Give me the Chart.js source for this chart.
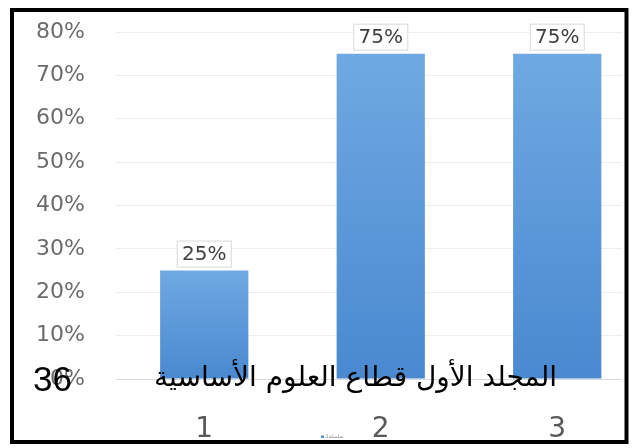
<!DOCTYPE html>
<html>
<head>
<meta charset="utf-8">
<script src="https://cdn.jsdelivr.net/npm/chart.js@4"></script>
<style>
  body { margin: 0; background: #fff; }
  #wrap { position: relative; width: 634px; height: 448px; overflow: hidden; }
  .foot { position: absolute; color: #000; white-space: nowrap; }
  #page { left: 33px; top: 361px; font-size: 35px; line-height: 35px; font-family: "Liberation Sans", Arial, sans-serif; }
  #title { right: 77px; top: 363px; font-size: 28px; line-height: 28px; font-family: "DejaVu Sans", sans-serif; direction: rtl; }
</style>
</head>
<body>
<div id="wrap">
  <canvas id="chart" width="634" height="448"></canvas>
  <div class="foot" id="page">36</div>
  <div class="foot" id="title" dir="rtl">المجلد الأول قطاع العلوم الأساسية</div>
</div>
<script>
'use strict';

// chart values
let categories = ['1', '2', '3'];
let values = [25, 75, 75];
let seriesName = 'سلسلة1';
let yTickValues = [0, 10, 20, 30, 40, 50, 60, 70, 80];

let canvasElem = document.getElementById('chart');

function barFill(context) {
  let chart = context.chart;
  let area = chart.chartArea;
  if (!area || context.type !== 'data' || !context.parsed) return '#5b9bd5';
  let top = chart.scales.y.getPixelForValue(context.parsed.y);
  let g = chart.ctx.createLinearGradient(0, top, 0, area.bottom);
  g.addColorStop(0, '#6fa9e2');
  g.addColorStop(1, '#4a89d0');
  return g;
}

// boxed value labels, the tiny legend under the axis, black frame round the picture
const extras = {
  id: 'extras',
  afterDatasetsDraw(chart) {
    let ctx = chart.ctx;
    let meta = chart.getDatasetMeta(0);
    ctx.save();
    ctx.font = '20px "DejaVu Sans"';
    ctx.textAlign = 'center';
    ctx.textBaseline = 'middle';
    meta.data.forEach((bar, i) => {
      let w = 55, h = 27;
      let x = bar.x - w / 2;
      let y = bar.y - h - 3;
      ctx.fillStyle = '#fff';
      ctx.fillRect(x, y, w, h);
      ctx.strokeStyle = '#d9d9d9';
      ctx.lineWidth = 1;
      ctx.strokeRect(x + 0.5, y + 0.5, w - 1, h - 1);
      ctx.fillStyle = '#404040';
      ctx.fillText(values[i] + '%', bar.x, y + h / 2 + 1);
    });
    ctx.restore();
  },
  afterDraw(chart) {
    let ctx = chart.ctx;
    ctx.save();
    ctx.fillStyle = '#4f8fd4';
    ctx.fillRect(321, 435.5, 3, 2.5);
    ctx.fillStyle = '#8a8a8a';
    ctx.font = '5px "DejaVu Sans"';
    ctx.textBaseline = 'middle';
    ctx.fillText(seriesName, 325.5, 437);
    ctx.strokeStyle = '#000';
    ctx.lineWidth = 4;
    ctx.strokeRect(12, 10, 614.5, 432);
    ctx.restore();
  }
};

const myChart = new Chart(canvasElem, {
  type: 'bar',
  data: {
    datasets: [{
      label: seriesName,
      data: categories.map((c, i) => ({ x: Number(c), y: values[i] })),
      backgroundColor: barFill,
      borderWidth: 0,
      categoryPercentage: 1,
      barPercentage: 0.5
    }]
  },
  options: {
    responsive: false,
    animation: false,
    layout: { padding: { left: 16, right: 12, top: 32, bottom: 4 } },
    plugins: {
      legend: { display: false },
      tooltip: { enabled: false }
    },
    scales: {
      x: {
        type: 'linear',
        min: 0.5,
        max: 3.367,
        offset: false,
        afterFit: s => { s.height = 65; },
        grid: { display: false, drawTicks: false },
        border: { display: false },
        ticks: {
          stepSize: 1,
          includeBounds: false,
          padding: 34,
          color: '#595959',
          font: { size: 28, family: 'DejaVu Sans' },
          callback: v => categories[v - 1]
        }
      },
      y: {
        min: 0,
        max: 80,
        afterBuildTicks: s => { s.ticks = yTickValues.map(v => ({ value: v })); },
        afterFit: s => { s.width = 100; },
        grid: {
          color: c => c.tick && c.tick.value === 0 ? '#d9d9d9' : '#ececec',
          drawTicks: true,
          tickLength: 28,
          tickColor: 'rgba(0,0,0,0)'
        },
        border: { display: false },
        ticks: {
          padding: 3,
          color: '#6b6b6b',
          font: { size: 22, family: 'DejaVu Sans' },
          callback: v => v + '%'
        }
      }
    }
  },
  plugins: [extras]
});
</script>
</body>
</html>
